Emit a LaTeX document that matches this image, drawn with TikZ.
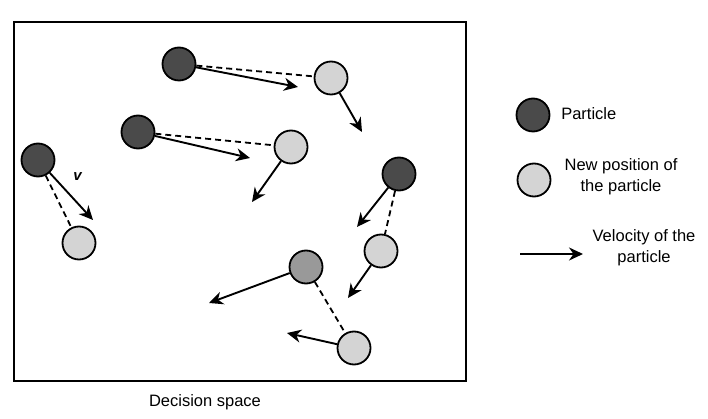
\documentclass[tikz,border=0pt]{standalone}
\usepackage{fontspec}
\setmainfont{Liberation Sans}
\usepackage{tikz}
\usetikzlibrary{arrows.meta,positioning}
\definecolor{olddark}{rgb}{0.29, 0.29, 0.29}
\definecolor{newlight}{rgb}{0.83, 0.83, 0.83}
\definecolor{midgray}{rgb}{0.6, 0.6, 0.6}
\newcommand{\vel}{\textbf{\textit{v}}}

\begin{document}
\begin{tikzpicture}[>={Stealth[length=14pt,width=13pt,inset=4.5pt]}, x=1pt, y=-1pt,
    line width=1.9pt,
    particle/.style={circle, draw, line width=1.8pt, fill=olddark, minimum size=33pt, inner sep=0pt},
    newpos/.style={particle, fill=newlight},
    vstep/.style={->, line width=1.9pt},
    link/.style={line width=1.8pt, dash pattern=on 6pt off 4pt},
    label/.style={font=\fontsize{16.5}{21}\selectfont, align=center}]
\useasboundingbox (0,0) rectangle (708,419);

% Frame
\draw[line width=2pt] (14,22) rectangle (466,381);
\node[label] (space) at (205,402) {Decision space};

% Particles
\node[particle] (p1) at (179,64) {};
\node[particle] (p2) at (138,132) {};
\node[particle] (p3) at (38,160) {};
\node[particle] (p4) at (399,174) {};
\node[particle, fill=midgray] (p5) at (306,267) {};

% New positions
\node[newpos] (n1) at (331,78) {};
\node[newpos] (n2) at (291,147) {};
\node[newpos] (n3) at (79,243) {};
\node[newpos] (n4) at (381,251) {};
\node[newpos] (n5) at (354,348) {};

% Arrow tips
\coordinate (t1) at (298,87);
\coordinate (t2) at (250,158);
\coordinate (t3) at (93,220);
\coordinate (t4) at (357,227);
\coordinate (t5) at (209,303);
\coordinate (u1) at (362,132);
\coordinate (u2) at (252,202);
\coordinate (u4) at (348,298);
\coordinate (u5) at (287,333);

% Dashed moves
\draw[link] (p1) -- (n1);
\draw[link] (p2) -- (n2);
\draw[link] (p3) -- (n3);
\draw[link] (p4) -- (n4);
\draw[link] (p5) -- (n5);

% Velocities
\draw[vstep] (p1) -- (t1);
\draw[vstep] (p2) -- (t2);
\draw[vstep] (p3) -- (t3);
\draw[vstep] (p4) -- (t4);
\draw[vstep] (p5) -- (t5);
\draw[vstep] (n1) -- (u1);
\draw[vstep] (n2) -- (u2);
\draw[vstep] (n4) -- (u4);
\draw[vstep] (n5) -- (u5);
\node[font=\fontsize{15}{17}\selectfont] (v) at (78,177) {\vel};

% Legend
\node[particle] (lp) at (533,115) {};
\node[label, anchor=west] (lptext) at (557,114) {Particle};
\node[newpos] (ln) at (534,180) {};
\node[label] (lntext) at (621,177) {New position of\\the particle};
\coordinate (la) at (520,254);
\coordinate (lb) at (583,254);
\draw[vstep] (la) -- (lb);
\node[label] (latext) at (644,248) {Velocity of the\\particle};
\end{tikzpicture}
\end{document}
